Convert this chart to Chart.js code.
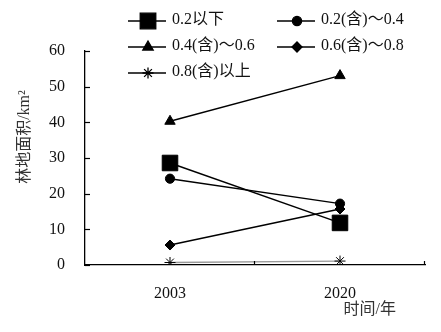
<!DOCTYPE html>
<html><head><meta charset="utf-8">
<script src="https://cdn.jsdelivr.net/npm/chart.js@4/dist/chart.umd.min.js"></script>
<style>html,body{margin:0;padding:0;background:#fff}#wrap{width:441px;height:332px}</style>
</head><body><div id="wrap"><canvas id="c" width="441" height="332"></canvas></div>
<script>
const categories = ['2003', '2020'];
const seriesLabels = ['0.2以下', '0.2(含)～0.4', '0.4(含)～0.6', '0.6(含)～0.8', '0.8(含)以上'];
const below02 = [28.6, 11.8];
const from02to04 = [24.2, 17.2];
const from04to06 = [40.3, 53.1];
const from06to08 = [5.6, 15.7];
const above08 = [0.7, 1.1];
const yTicks = [0, 10, 20, 30, 40, 50, 60];
const yTitle = '林地面积/km²';
const xTitle = '时间/年';

const seriesValues = [below02, from02to04, from04to06, from06to08, above08];
const styles = [
  {pointStyle: 'rect', radius: 11, color: '#000'},
  {pointStyle: 'circle', radius: 4.6, color: '#000'},
  {pointStyle: 'triangle', radius: 6, color: '#000'},
  {pointStyle: 'rectRot', radius: 5, color: '#000'},
  {pointStyle: 'star', radius: 5.5, color: '#000', line: '#999'}
];
const legendCells = [[0,0],[0,1],[1,0],[1,1],[2,0]];

const TXT = '#111';
const FONT = '"Liberation Serif", "Noto Sans CJK SC", serif';

function drawMarker(ctx, st, x, y) {
  if (Chart.helpers && Chart.helpers.drawPoint) {
    Chart.helpers.drawPoint(ctx, {pointStyle: st.pointStyle, radius: st.radius, rotation: 0, borderWidth: 1}, x, y);
  }
}

const overlay = {
  id: 'overlay',
  afterDraw(chart) {
    const ctx = chart.ctx, a = chart.chartArea;
    const xs = chart.scales.x, ys = chart.scales.y;
    ctx.save();
    ctx.strokeStyle = '#000'; ctx.lineWidth = 1.2;
    ys.ticks.forEach(t => {
      const py = Math.round(ys.getPixelForValue(t.value)) + 0.5;
      ctx.beginPath(); ctx.moveTo(a.left, py); ctx.lineTo(a.left + 5, py); ctx.stroke();
    });
    const n = categories.length;
    for (let i = 1; i <= n; i++) {
      const px = i < n ? (xs.getPixelForValue(i - 1) + xs.getPixelForValue(i)) / 2 : a.right;
      const rx = Math.round(px) - 0.5;
      ctx.beginPath(); ctx.moveTo(rx, a.bottom); ctx.lineTo(rx, a.bottom - 4); ctx.stroke();
    }
    ctx.fillStyle = '#333';
    ctx.font = '16px ' + FONT;
    ctx.textAlign = 'right'; ctx.textBaseline = 'middle';
    ctx.fillText(xTitle, a.right - 29, a.bottom + 45);
    ctx.save();
    ctx.translate(a.left - 60, a.top + 86);
    ctx.rotate(-Math.PI / 2);
    ctx.textAlign = 'center';
    ctx.fillText(yTitle, 0, 0);
    ctx.restore();
    ctx.font = '16px ' + FONT;
    ctx.textAlign = 'left'; ctx.textBaseline = 'middle';
    chart.data.datasets.forEach((ds, i) => {
      const [r, c] = legendCells[i];
      const x0 = a.left + 43 + c * 149;
      const y0 = a.top - 30 + r * 26;
      ctx.strokeStyle = '#000'; ctx.lineWidth = 1.3;
      ctx.beginPath(); ctx.moveTo(x0, y0); ctx.lineTo(x0 + 38, y0); ctx.stroke();
      ctx.fillStyle = '#000'; ctx.strokeStyle = '#000';
      drawMarker(ctx, styles[i], x0 + 20, y0);
      ctx.fillStyle = TXT;
      ctx.fillText(ds.label, x0 + 44, y0 - 1);
    });
    ctx.restore();
  }
};

new Chart(document.getElementById('c'), {
  type: 'line',
  data: {
    labels: categories,
    datasets: seriesLabels.map((lab, i) => ({
      label: lab,
      data: seriesValues[i],
      borderColor: styles[i].line || '#000',
      borderWidth: 1.4,
      pointStyle: styles[i].pointStyle,
      pointRadius: styles[i].radius,
      pointBackgroundColor: '#000',
      pointBorderColor: '#000',
      pointBorderWidth: 1,
      tension: 0,
      fill: false
    }))
  },
  options: {
    responsive: false,
    animation: false,
    devicePixelRatio: 1,
    layout: {padding: {top: 51, right: 16, left: 0, bottom: 0}},
    plugins: {legend: {display: false}, tooltip: {enabled: false}},
    scales: {
      x: {
        offset: true,
        grid: {display: false, offset: true},
        border: {display: true, color: '#000', width: 1.3},
        ticks: {color: TXT, font: {family: FONT, size: 16}, padding: 11, maxRotation: 0},
        afterFit(s) { s.height = 67; }
      },
      y: {
        min: 0, max: 60,
        afterBuildTicks(s) { s.ticks = yTicks.map(v => ({value: v})); },
        grid: {display: false},
        border: {display: true, color: '#000', width: 1.3},
        ticks: {color: TXT, font: {family: FONT, size: 16}, padding: 12},
        afterFit(s) { s.width = 85; }
      }
    }
  },
  plugins: [overlay]
});
</script>
</body></html>
